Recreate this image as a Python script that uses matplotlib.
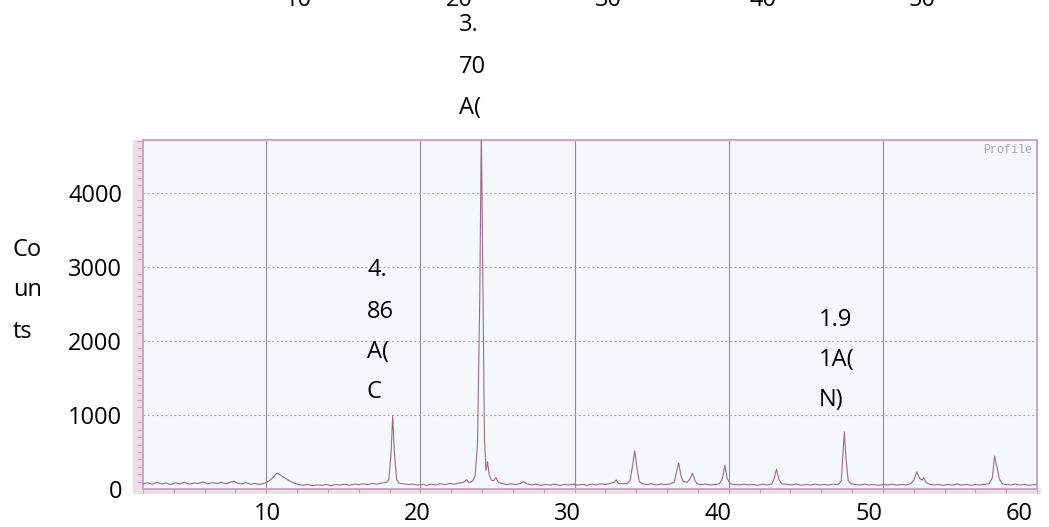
"""
XRD profile (Counts vs 2-theta) with the scanned chart look and the overlaid
peak labels (d-spacing / phase), written as loose text blocks.
Out: out.png (1049 x 527 px)
"""
import matplotlib
matplotlib.use("Agg")
import matplotlib.pyplot as plt
from matplotlib.patches import Rectangle
from matplotlib.ticker import MultipleLocator

plt.rcParams["font.family"] = ["Open Sans", "DejaVu Sans"]

W, H = 1049, 527

# ---- data: 2-theta (deg) vs counts ----
two_theta = [
    2.0, 2.3, 2.6, 2.9, 3.2, 3.5, 3.8, 4.1, 4.4, 4.7, 5.0, 5.3, 5.6, 5.9, 6.2, 6.5,
    6.8, 7.1, 7.4, 7.7, 7.9, 8.1, 8.4, 8.7, 9.0, 9.3, 9.6, 9.9,
    10.2, 10.45, 10.7, 10.9, 11.2, 11.5, 11.8, 12.1,
    12.4, 12.7, 13.0, 13.3, 13.6, 13.9, 14.2, 14.5, 14.8, 15.1, 15.4, 15.7, 16.0,
    16.3, 16.6, 16.9, 17.2, 17.5, 17.8,
    17.95, 18.1, 18.2, 18.3, 18.45, 18.6,
    18.9, 19.2, 19.5, 19.8, 20.1, 20.4, 20.7, 21.0, 21.3, 21.6, 21.9, 22.2, 22.5,
    22.8, 23.0, 23.15, 23.4, 23.55, 23.7, 23.85, 23.95, 24.05, 24.15, 24.25, 24.35,
    24.45, 24.6, 24.75, 24.9, 25.05, 25.3, 25.6, 25.9, 26.2, 26.5, 26.7, 26.9,
    27.2, 27.5, 27.8, 28.1, 28.4, 28.7, 29.0, 29.3, 29.6, 29.9, 30.2, 30.5, 30.8,
    31.1, 31.4, 31.7, 32.0, 32.3, 32.55, 32.7, 32.85, 33.1, 33.4, 33.6, 33.75,
    33.9, 34.05, 34.2, 34.4, 34.7, 35.0, 35.3, 35.6, 35.9, 36.2, 36.45, 36.6,
    36.75, 36.9, 37.05, 37.3, 37.5, 37.65, 37.8, 37.95, 38.2, 38.5, 38.8, 39.1,
    39.4, 39.6, 39.75, 39.9, 40.1, 40.4, 40.7, 41.0, 41.3, 41.6, 41.9, 42.2, 42.5,
    42.8, 42.95, 43.1, 43.25, 43.45, 43.8, 44.1, 44.4, 44.7, 45.0, 45.3, 45.6,
    45.9, 46.2, 46.5, 46.8, 47.1, 47.3, 47.4, 47.5, 47.6, 47.75, 47.95, 48.2,
    48.5, 48.8, 49.1, 49.4, 49.7, 50.0, 50.3, 50.6, 50.9, 51.2, 51.5, 51.8, 52.0,
    52.2, 52.4, 52.55, 52.65, 52.8, 53.0, 53.3, 53.6, 53.9, 54.2, 54.5, 54.8,
    55.1, 55.4, 55.7, 56.0, 56.3, 56.6, 56.9, 57.1, 57.25, 57.4, 57.55, 57.75,
    58.0, 58.3, 58.6, 58.9, 59.2, 59.5, 59.8, 60.0,
]
counts = [
    70, 85, 65, 90, 70, 80, 60, 85, 70, 90, 65, 80, 75, 95, 70, 85,
    75, 90, 70, 95, 105, 80, 70, 85, 65, 75, 60, 80,
    110, 160, 215, 190, 150, 110, 80, 60,
    50, 60, 45, 55, 50, 60, 45, 60, 55, 65, 50, 65, 60,
    70, 60, 75, 65, 80, 90,
    130, 500, 990, 520, 130, 80,
    70, 60, 65, 55, 60, 50, 65, 55, 70, 60, 75, 65, 80,
    90, 125, 85, 110, 180, 600, 2600, 4900, 2800, 700, 250, 370,
    200, 120, 110, 155, 90, 75, 60, 70, 60, 75, 100, 70,
    55, 65, 50, 60, 55, 65, 50, 60, 55, 65, 55, 60, 50,
    65, 55, 70, 60, 75, 90, 120, 75, 70, 75, 110, 300,
    515, 280, 100, 70, 60, 70, 55, 65, 60, 70, 90, 220,
    350, 180, 100, 90, 140, 215, 120, 70, 60, 65, 55, 60,
    70, 150, 320, 140, 70, 60, 55, 65, 55, 60, 50, 65, 55,
    70, 140, 270, 130, 70, 60, 55, 65, 50, 60, 55, 65,
    55, 60, 55, 65, 60, 110, 450, 770, 430, 110, 70, 60,
    55, 65, 55, 60, 50, 60, 55, 65, 55, 60, 55, 70, 120,
    230, 140, 120, 150, 90, 65, 55, 60, 50, 60, 55, 65,
    55, 60, 50, 60, 55, 65, 70, 150, 445, 300, 140, 70,
    60, 55, 65, 55, 60, 50, 60, 55,
]

y_ticks = [0, 1000, 2000, 3000, 4000]
x_tick_labels = ["10", "20", "30", "40", "50", "60"]
top_labels = ["10", "20", "30", "40", "50"]   # cut-off labels at the top edge
ylabel_parts = ["Co", "un", "ts"]
peak_a = ["4.", "86", "A(", "C"]
peak_b = ["3.", "70", "A(", "N)"]
peak_c = ["1.9", "1A(", "N)"]

PINK = "#c9a6bf"
LINE = "#9c6b8f"


def px(x, y):
    """pixel (from top-left) -> figure fraction"""
    return x / W, 1 - y / H


fig = plt.figure(figsize=(W / 100, H / 100), dpi=100)
fig.patch.set_facecolor("white")

# scan frame band (pinkish margin of the scanned chart)
fig.add_artist(Rectangle(px(133, 493), 10 / W, 353 / H, transform=fig.transFigure,
                         fc="#efdeea", ec="none", zorder=0))
fig.add_artist(Rectangle(px(133, 494), 908 / W, 6 / H, transform=fig.transFigure,
                         fc="#efdeea", ec="none", zorder=0))

ax = fig.add_axes([143 / W, 38 / H, 894 / W, 349 / H])
ax.set_facecolor("#f4f8f8")
ax.plot(two_theta, counts, color=LINE, lw=0.8, zorder=3)
ax.set_xlim(2, 60)
ax.set_ylim(0, 4710)
for v in range(10, 60, 10):
    ax.axvline(v, color="#8f8f8f", lw=0.8, zorder=1)
for v in y_ticks[1:]:
    ax.axhline(v, color="#a0a0a0", lw=0.8, ls=(0, (1.5, 2.5)), zorder=1)
for s in ax.spines.values():
    s.set_color(PINK); s.set_linewidth(1.4)
ax.set_yticks(y_ticks)
ax.set_yticklabels([str(v) for v in y_ticks])
ax.yaxis.set_minor_locator(MultipleLocator(100))
ax.tick_params(axis="y", which="major", length=0, pad=15, labelsize=17)
ax.tick_params(axis="y", which="minor", length=4, color=PINK, width=0.8)
ax.set_xticks([])
ax.xaxis.set_minor_locator(MultipleLocator(2))
ax.tick_params(axis="x", which="minor", length=3, color=PINK, width=0.8)
ax.text(0.995, 0.988, "Profile", transform=ax.transAxes, ha="right", va="top",
        fontsize=8.5, color="#a8a8a8", family="Liberation Mono", zorder=4)

# overlaid x labels (their own slightly different scale than the scan grid)
lab = fig.add_axes([143 / W, 38 / H, 894 / W, 349 / H], frameon=False)
lab.patch.set_visible(False)
lab.set_xlim(1.76, 61.2)
lab.set_ylim(0, 1)
lab.set_yticks([])
lab.set_xticks([float(t) for t in x_tick_labels])
lab.set_xticklabels(x_tick_labels)
lab.tick_params(axis="x", length=0, pad=9.5, labelsize=17)

# labels cut by the top edge of the image
for t, dx in zip(top_labels, [298, 459, 608, 763, 922]):
    fig.text(dx / W, 1 - 6 / H, t, ha="center", va="baseline", fontsize=17)

# y label written in pieces
for t, yc in zip(ylabel_parts, [250, 290, 332]):
    fig.text(*px(13, yc), t, ha="left", va="center", fontsize=17)

# peak annotations
for t, yc in zip(peak_a, [270, 312, 352, 392]):
    fig.text(*px(367, yc), t, ha="left", va="center", fontsize=17, zorder=5)
for t, yc in zip(peak_b, [25, 67, 108, 151]):
    fig.text(*px(459, yc), t, ha="left", va="center", fontsize=17, zorder=-1)
for t, yc in zip(peak_c, [320, 360, 400]):
    fig.text(*px(819, yc), t, ha="left", va="center", fontsize=17, zorder=5)

fig.savefig("out.png", dpi=100)
